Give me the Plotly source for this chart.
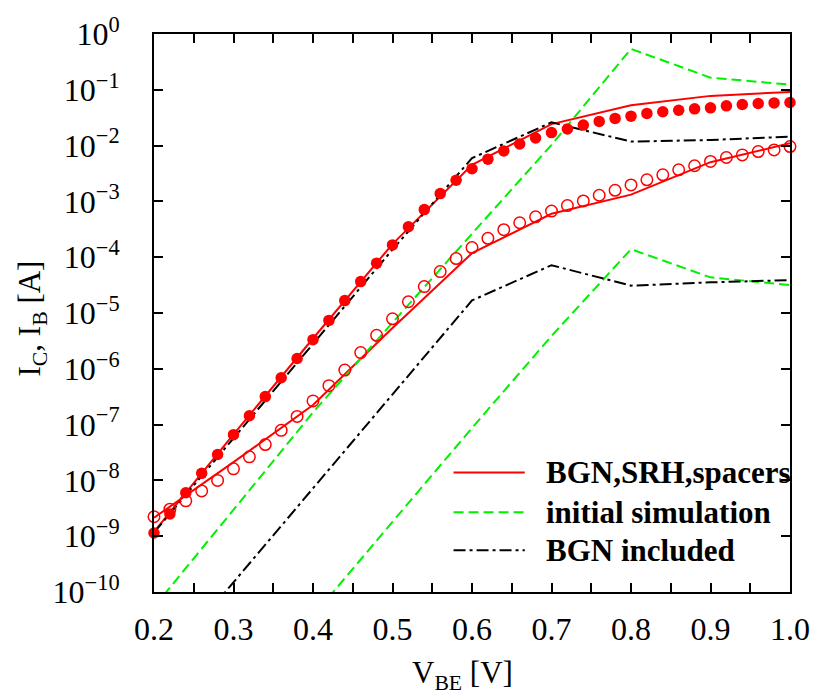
import plotly.graph_objects as go

# Measured collector / base currents (V_BE step 0.02 V)
v_meas = [round(0.20 + 0.02 * i, 2) for i in range(41)]
ic_meas = [1.14e-9, 2.5e-9, 6.0e-9, 1.34e-8, 2.91e-8, 6.61e-8, 1.44e-7, 3.18e-7, 6.92e-7, 1.53e-6,
           3.33e-6, 7.36e-6, 1.67e-5, 3.65e-5, 7.82e-5, 1.66e-4, 3.52e-4, 7.14e-4, 1.38e-3, 2.39e-3,
           3.84e-3, 5.71e-3, 8.04e-3, 1.07e-2, 1.37e-2, 1.71e-2, 1.98e-2, 2.33e-2, 2.71e-2, 3.07e-2,
           3.37e-2, 3.77e-2, 4.04e-2, 4.31e-2, 4.56e-2, 4.75e-2, 5.16e-2, 5.45e-2, 5.68e-2, 5.83e-2,
           5.92e-2]
ib_meas = [2.23e-9, 3.05e-9, 4.30e-9, 6.47e-9, 1.00e-8, 1.61e-8, 2.64e-8, 4.39e-8, 7.89e-8, 1.40e-7,
           2.66e-7, 4.99e-7, 9.48e-7, 1.95e-6, 3.98e-6, 7.87e-6, 1.59e-5, 2.97e-5, 5.52e-5, 9.46e-5,
           1.49e-4, 2.18e-4, 3.11e-4, 4.14e-4, 5.30e-4, 6.70e-4, 8.41e-4, 1.02e-3, 1.29e-3, 1.58e-3,
           1.97e-3, 2.44e-3, 3.00e-3, 3.68e-3, 4.35e-3, 5.20e-3, 6.12e-3, 6.81e-3, 7.83e-3, 8.36e-3,
           9.62e-3]

# Simulated currents (V_BE step 0.1 V)
v_sim = [0.2, 0.3, 0.4, 0.5, 0.6, 0.7, 0.8, 0.9, 1.0]
ic_full = [1.20e-9, 6.68e-8, 3.49e-6, 1.72e-4, 4.52e-3, 2.43e-2, 5.30e-2, 7.78e-2, 9.16e-2]
ib_full = [2.14e-9, 2.12e-8, 2.24e-7, 5.37e-6, 1.18e-4, 6.00e-4, 1.32e-3, 5.05e-3, 1.10e-2]
ic_init = [5.37e-11, 3.04e-9, 1.65e-7, 6.73e-6, 2.66e-4, 1.03e-2, 0.541, 0.165, 0.124]
ib_init = [1.58e-14, 7.76e-13, 3.72e-11, 1.81e-9, 8.69e-8, 3.87e-6, 1.39e-4, 4.35e-5, 3.17e-5]
ic_bgn = [1.16e-9, 5.68e-8, 2.90e-6, 1.37e-4, 5.96e-3, 2.61e-2, 1.18e-2, 1.26e-2, 1.45e-2]
ib_bgn = [3.09e-12, 1.48e-10, 7.16e-9, 3.48e-7, 1.68e-5, 7.19e-5, 3.09e-5, 3.54e-5, 3.89e-5]

legend_labels = ["BGN,SRH,spacers", "initial simulation", "BGN included"]
x_ticks = [0.2, 0.3, 0.4, 0.5, 0.6, 0.7, 0.8, 0.9, 1.0]
y_exponents = list(range(-10, 1))

RED, GREEN, BLACK = "#ff0000", "#00f000", "#000000"
FONT = "Liberation Serif"
styles = [
    dict(color=RED, width=2, dash="solid"),
    dict(color=GREEN, width=2, dash="10px,5px"),
    dict(color=BLACK, width=2, dash="12px,4px,3px,4px"),
]

fig = go.Figure()
for (ic, ib), st in zip([(ic_full, ib_full), (ic_init, ib_init), (ic_bgn, ib_bgn)], styles):
    for y in (ic, ib):
        fig.add_trace(go.Scatter(x=v_sim, y=y, mode="lines", line=st,
                                 showlegend=False, hoverinfo="skip"))

fig.add_trace(go.Scatter(x=v_meas, y=ic_meas, mode="markers", cliponaxis=False,
                         marker=dict(symbol="circle", size=11.5, color=RED),
                         showlegend=False))
fig.add_trace(go.Scatter(x=v_meas, y=ib_meas, mode="markers", cliponaxis=False,
                         marker=dict(symbol="circle-open", size=11.5, color=RED,
                                     line=dict(width=1.5, color=RED)),
                         showlegend=False))

# Legend drawn as line samples + bold labels in the lower right corner
leg_y = [0.214, 0.143, 0.075]
for label, st, yy in zip(legend_labels, styles, leg_y):
    fig.add_shape(type="line", xref="paper", yref="paper", x0=0.471, x1=0.583,
                  y0=yy, y1=yy, line=st)
    fig.add_annotation(xref="paper", yref="paper", x=0.613, y=yy, text=f"<b>{label}</b>",
                       showarrow=False, xanchor="left", yanchor="middle",
                       font=dict(family=FONT, size=31, color="black"))

# Axis titles
fig.add_annotation(xref="paper", yref="paper", x=0.485, y=-0.148,
                   text="V<sub>BE</sub> [V]", showarrow=False,
                   xanchor="center", yanchor="middle",
                   font=dict(family=FONT, size=31, color="black"))
fig.add_annotation(xref="paper", yref="paper", x=-0.192, y=0.49,
                   text="I<sub>C</sub>, I<sub>B</sub> [A]", showarrow=False, textangle=-90,
                   xanchor="center", yanchor="middle",
                   font=dict(family=FONT, size=31, color="black"))

axis_common = dict(showline=True, linecolor="black", linewidth=2, mirror="ticks",
                   ticks="inside", ticklen=9, tickwidth=2, tickcolor="black",
                   showgrid=False, zeroline=False,
                   tickfont=dict(family=FONT, size=32, color="black"))

fig.update_xaxes(range=[0.2, 1.0], tickvals=x_ticks,
                 ticktext=[f"{v:.1f}" for v in x_ticks],
                 minor=dict(dtick=0.05, ticks="inside", ticklen=9, tickwidth=2,
                            tickcolor="black", showgrid=False),
                 ticklabelstandoff=8, **axis_common)
fig.update_yaxes(type="log", range=[-10, 0], tickvals=[10.0 ** e for e in y_exponents],
                 ticktext=["10<sup>" + (str(e).replace("-", "\u2212")) + "</sup>" for e in y_exponents],
                 ticklabelstandoff=26, **axis_common)

fig.update_layout(width=822, height=694, margin=dict(l=154, r=25, t=30, b=102),
                  plot_bgcolor="white", paper_bgcolor="white", showlegend=False)

fig.write_html("out.html")
